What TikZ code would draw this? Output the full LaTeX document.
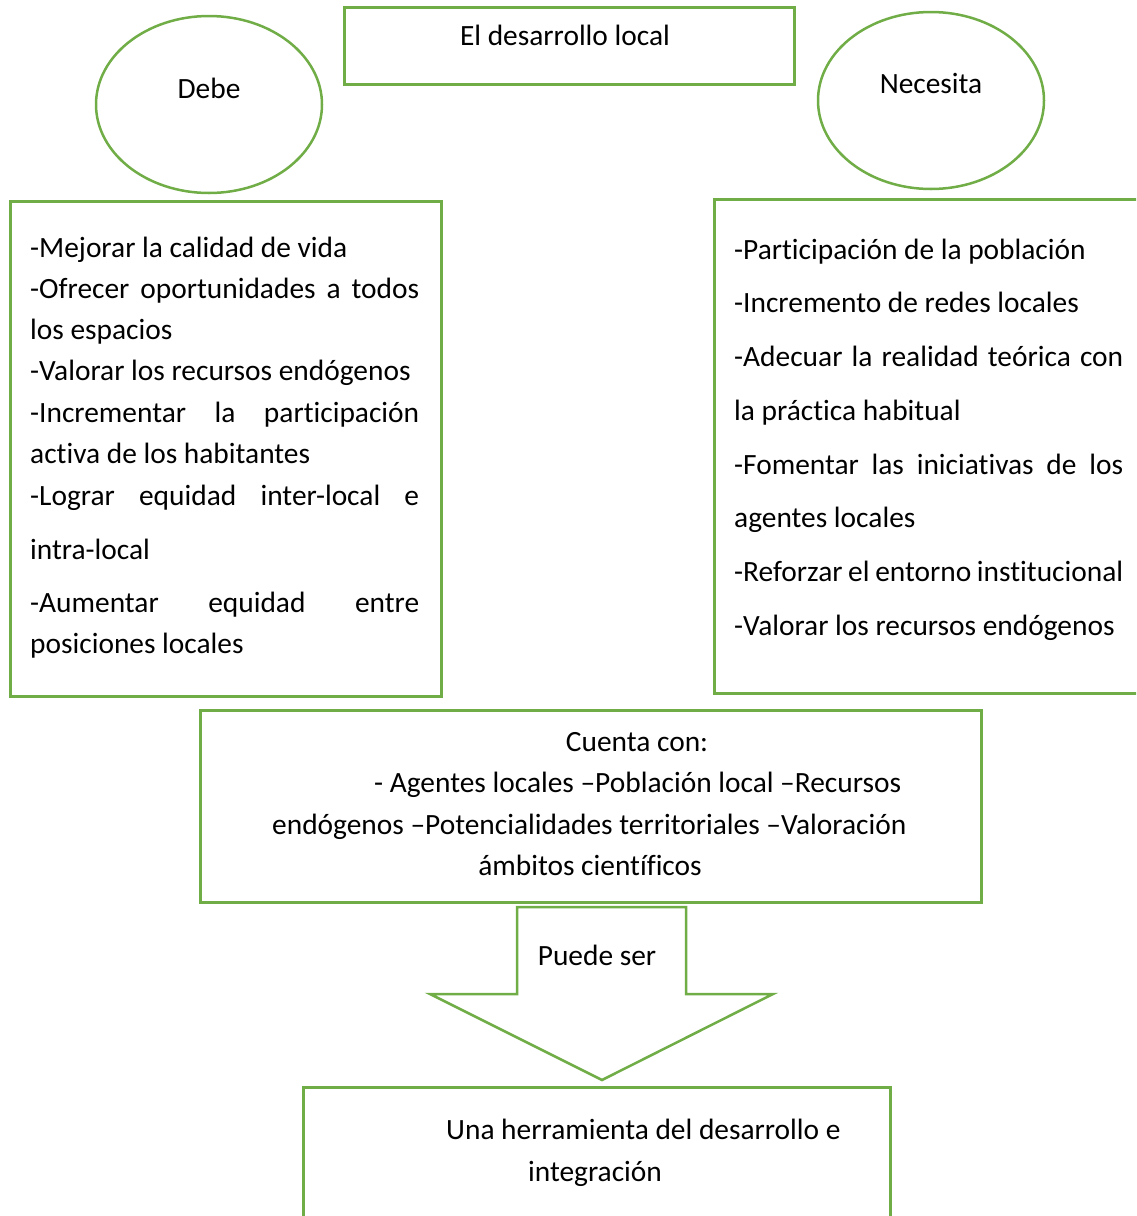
\documentclass[tikz,border=0pt]{standalone}
\usepackage{fontspec}
\setmainfont{Carlito}[Ligatures={NoCommon},RawFeature=-calt,RawFeature=-clig]
\usetikzlibrary{shapes.geometric}
\definecolor{grn}{HTML}{70AD47}
\newcommand{\jline}[1]{\makebox[389pt][s]{#1}}
\begin{document}
\begin{tikzpicture}[x=1pt,y=-1pt,
  box/.style={draw=grn, line width=2.5pt, fill=white, inner sep=0pt, anchor=north west},
  oval/.style={draw=grn, line width=2.5pt, ellipse, inner sep=0pt},
  txt/.style={inner sep=0pt, font=\fontsize{29.4}{35}\selectfont},
  lt/.style={txt, anchor=base west},
  ct/.style={txt, anchor=base}]
\useasboundingbox (0,0) rectangle (1136,1216);
\clip (0,0) rectangle (1136,1216);
% boxes
\node[box, minimum width=450pt, minimum height=77pt] (title) at (343,6) {};
\node[oval, minimum width=226pt, minimum height=177pt] (debe) at (209,104.5) {};
\node[oval, minimum width=226pt, minimum height=177pt] (nec) at (931,100.5) {};
\node[box, minimum width=431pt, minimum height=495pt] (left) at (9,200) {};
\node[box, minimum width=440pt, minimum height=494pt] (right) at (713,198) {};
\node[box, minimum width=781pt, minimum height=192pt] (cuenta) at (199,709) {};
\node[box, minimum width=587pt, minimum height=160pt] (final) at (302,1086) {};
\draw[draw=grn, line width=2.5pt, fill=white, line join=miter]
  (517,907) -- (686,907) -- (686,994) -- (773,994) -- (602,1080) -- (430,994) -- (517,994) -- cycle;
% texts
\node[ct] (tt) at (565,45) {El desarrollo local};
\node[ct] (td) at (209,98) {Debe};
\node[ct] (tn) at (931,93) {Necesita};
\node[ct] (tp) at (597,965) {Puede ser};
% left list
\node[lt] (l1) at (30,257) {-Mejorar la calidad de vida};
\node[lt] (l2) at (30,298) {\jline{-Ofrecer oportunidades a todos}};
\node[lt] (l3) at (30,339) {los espacios};
\node[lt] (l4) at (30,380) {-Valorar los recursos endógenos};
\node[lt] (l5) at (30,422) {\jline{-Incrementar la participación}};
\node[lt] (l6) at (30,463) {activa de los habitantes};
\node[lt] (l7) at (30,505) {\jline{-Lograr equidad inter-local e}};
\node[lt] (l8) at (30,559) {intra-local};
\node[lt] (l9) at (30,612) {\jline{-Aumentar equidad entre}};
\node[lt] (l10) at (30,653) {posiciones locales};
% right list
\node[lt] (r1) at (734,259) {-Participación de la población};
\node[lt] (r2) at (734,312) {-Incremento de redes locales};
\node[lt] (r3) at (734,366) {\jline{-Adecuar la realidad teórica con}};
\node[lt] (r4) at (734,420) {la práctica habitual};
\node[lt] (r5) at (734,474) {\jline{-Fomentar las iniciativas de los}};
\node[lt] (r6) at (734,527) {agentes locales};
\node[lt] (r7) at (734,581) {\jline{-Reforzar el entorno institucional}};
\node[lt] (r8) at (734,635) {-Valorar los recursos endógenos};
% cuenta
\node[ct] (c1) at (637,751) {Cuenta con:};
\node[lt] (c2) at (374,792) {- Agentes locales –Población local –Recursos};
\node[lt] (c3) at (272,834) {endógenos –Potencialidades territoriales –Valoración};
\node[ct] (c4) at (590,875) {ámbitos científicos};
% final
\node[lt] (f1) at (446,1139) {Una herramienta del desarrollo e};
\node[ct] (f2) at (595,1181) {integración};
\end{tikzpicture}
\end{document}
